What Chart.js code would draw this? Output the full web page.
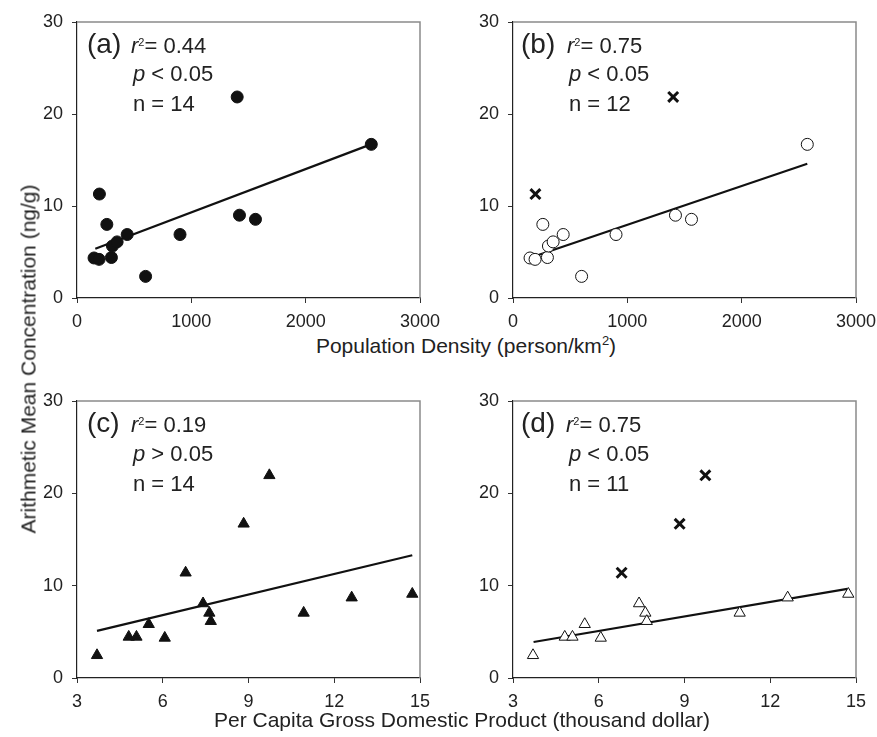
<!DOCTYPE html>
<html>
<head>
<meta charset="utf-8">
<script src="https://cdn.jsdelivr.net/npm/chart.js@4"></script>
<style>
  body { margin: 0; width: 877px; height: 737px; overflow: hidden; background: #fff;
         position: relative; font-family: "Liberation Sans", Arial, sans-serif; color: #222; }
  canvas { position: absolute; }
  .t { position: absolute; white-space: nowrap; line-height: 1; }
  .ax { font-size: 21px; }
  .ax sup { font-size: 13px; line-height: 0; vertical-align: 8px; }
  .an { font-size: 22px; }
  .an sup { font-size: 11px; line-height: 0; vertical-align: 7px; }
  .lab { font-size: 28px; }
</style>
</head>
<body>
<canvas id="chartA"></canvas>
<canvas id="chartB"></canvas>
<canvas id="chartC"></canvas>
<canvas id="chartD"></canvas>

<!-- axis titles -->
<div class="t ax" style="left:466px; top:335px; transform:translateX(-50%)">Population Density (person/km<sup>2</sup>)</div>
<div class="t ax" style="left:462px; top:709px; transform:translateX(-50%)">Per Capita Gross Domestic Product (thousand dollar)</div>
<div class="t ax" style="left:28px; top:359px; transform:translate(-50%,-50%) rotate(-90deg)">Arithmetic Mean Concentration (ng/g)</div>

<!-- panel notes -->
<div class="t lab" style="left:87px; top:30px">(a)</div>
<div class="t an" style="left:131px; top:35px"><i>r</i><sup>2</sup>= 0.44</div>
<div class="t an" style="left:133px; top:63px"><i>p</i> &lt; 0.05</div>
<div class="t an" style="left:133px; top:93px">n = 14</div>

<div class="t lab" style="left:521px; top:30px">(b)</div>
<div class="t an" style="left:567px; top:35px"><i>r</i><sup>2</sup>= 0.75</div>
<div class="t an" style="left:569px; top:63px"><i>p</i> &lt; 0.05</div>
<div class="t an" style="left:569px; top:93px">n = 12</div>

<div class="t lab" style="left:87px; top:409px">(c)</div>
<div class="t an" style="left:131px; top:414px"><i>r</i><sup>2</sup>= 0.19</div>
<div class="t an" style="left:133px; top:443px"><i>p</i> &gt; 0.05</div>
<div class="t an" style="left:133px; top:473px">n = 14</div>

<div class="t lab" style="left:521px; top:409px">(d)</div>
<div class="t an" style="left:566px; top:414px"><i>r</i><sup>2</sup>= 0.75</div>
<div class="t an" style="left:569px; top:443px"><i>p</i> &lt; 0.05</div>
<div class="t an" style="left:569px; top:473px">n = 11</div>

<script>
// Population density panels (a, b)
const densityX = [149, 193, 196, 261, 301, 310, 351, 439, 600, 901, 1401, 1421, 1561, 2574];
const densityY = [4.35, 4.2, 11.3, 8.0, 4.4, 5.65, 6.1, 6.9, 2.35, 6.9, 21.85, 9.0, 8.55, 16.7];
const densityOutliers = [2, 10];   // shown as crosses in (b)

// GDP panels (c, d)
const gdpX = [3.70, 4.81, 5.08, 5.51, 6.07, 6.80, 7.41, 7.63, 7.68, 8.83, 9.73, 10.93, 12.61, 14.73];
const gdpY = [2.46, 4.45, 4.45, 5.82, 4.34, 11.4, 8.07, 7.05, 6.15, 16.7, 21.95, 7.05, 8.7, 9.1];
const gdpOutliers = [5, 9, 10];    // shown as crosses in (d)

// fitted lines (end points)
const fitAX = [160, 2570];  const fitAY = [5.35, 16.7];
const fitBX = [170, 2574];  const fitBY = [4.45, 14.6];
const fitCX = [3.70, 14.73]; const fitCY = [5.1, 13.3];
const fitDX = [3.72, 14.7]; const fitDY = [3.9, 9.65];

// tick labels
const densityTicks = [0, 1000, 2000, 3000];
const gdpTicks = [3, 6, 9, 12, 15];
const concTicks = [0, 10, 20, 30];

const FONT = "'Liberation Sans', Arial, sans-serif";
const PAD_L = 50, PAD_T = 10, PAD_R = 25, PAD_B = 35;

const pts = (xs, ys, keep) => xs.map((x, i) => ({ x, y: ys[i] })).filter((p, i) => keep(i));

// gray top/right edges of the box
const framePlugin = {
  id: "frame",
  beforeDatasetsDraw(chart) {
    const { ctx, chartArea: a } = chart;
    ctx.save();
    ctx.strokeStyle = "#8a8a8a";
    ctx.lineWidth = 1.5;
    ctx.beginPath();
    ctx.moveTo(a.left, a.top);
    ctx.lineTo(a.right, a.top);
    ctx.lineTo(a.right, a.bottom);
    ctx.stroke();
    ctx.restore();
  }
};

function axis(min, max, ticks, isX) {
  return {
    type: "linear",
    min, max,
    afterBuildTicks: s => { s.ticks = ticks.map(v => ({ value: v })); },
    afterFit: s => {
      if (isX) { s.height = PAD_B; s.paddingLeft = 0; s.paddingRight = 0; }
      else { s.width = PAD_L; s.paddingTop = 0; s.paddingBottom = 0; }
    },
    ticks: { font: { family: FONT, size: 18 }, color: "#222", padding: isX ? 8 : 9,
             maxRotation: 0, autoSkip: false, callback: v => String(v) },
    grid: { drawOnChartArea: false, drawTicks: true, tickLength: 5, color: "#333", lineWidth: 1 },
    border: { display: true, color: "#222", width: 1.2 }
  };
}

function makePanel(id, box, xMin, xMax, xTicks, datasets) {
  const cv = document.getElementById(id);
  cv.width = box.w + PAD_L + PAD_R;
  cv.height = box.h + PAD_T + PAD_B;
  cv.style.left = (box.l - PAD_L) + "px";
  cv.style.top = (box.t - PAD_T) + "px";
  return new Chart(cv, {
    type: "scatter",
    data: { datasets },
    options: {
      responsive: false,
      animation: false,
      devicePixelRatio: 1,
      layout: { padding: { left: 0, top: PAD_T, right: PAD_R, bottom: 0 } },
      plugins: { legend: { display: false }, tooltip: { enabled: false } },
      scales: { x: axis(xMin, xMax, xTicks, true), y: axis(0, 30, concTicks, false) }
    },
    plugins: [framePlugin]
  });
}

function fitLine(xs, ys) {
  return { data: pts(xs, ys, () => true), showLine: true, pointRadius: 0,
           borderColor: "#111", borderWidth: 2.2, order: 2 };
}
function marks(data, style, filled, radius) {
  return { data, pointStyle: style, pointRadius: radius,
           backgroundColor: filled ? "#111" : "#fff", borderColor: "#111",
           borderWidth: 1, order: 1 };
}
function crosses(data) {
  return { data, pointStyle: "crossRot", pointRadius: 7, borderColor: "#111",
           borderWidth: 3, order: 0 };
}

const inD = i => densityOutliers.includes(i);
const inG = i => gdpOutliers.includes(i);

makePanel("chartA", { l: 77, t: 22, w: 343, h: 276 }, 0, 3000, densityTicks, [
  marks(pts(densityX, densityY, () => true), "circle", true, 6),
  fitLine(fitAX, fitAY)
]);

makePanel("chartB", { l: 513, t: 22, w: 343, h: 276 }, 0, 3000, densityTicks, [
  marks(pts(densityX, densityY, i => !inD(i)), "circle", false, 6),
  crosses(pts(densityX, densityY, inD)),
  fitLine(fitBX, fitBY)
]);

makePanel("chartC", { l: 77, t: 401, w: 343, h: 277 }, 3, 15, gdpTicks, [
  marks(pts(gdpX, gdpY, () => true), "triangle", true, 6.5),
  fitLine(fitCX, fitCY)
]);

makePanel("chartD", { l: 513, t: 401, w: 343, h: 277 }, 3, 15, gdpTicks, [
  marks(pts(gdpX, gdpY, i => !inG(i)), "triangle", false, 6.5),
  crosses(pts(gdpX, gdpY, inG)),
  fitLine(fitDX, fitDY)
]);
</script>
</body>
</html>
